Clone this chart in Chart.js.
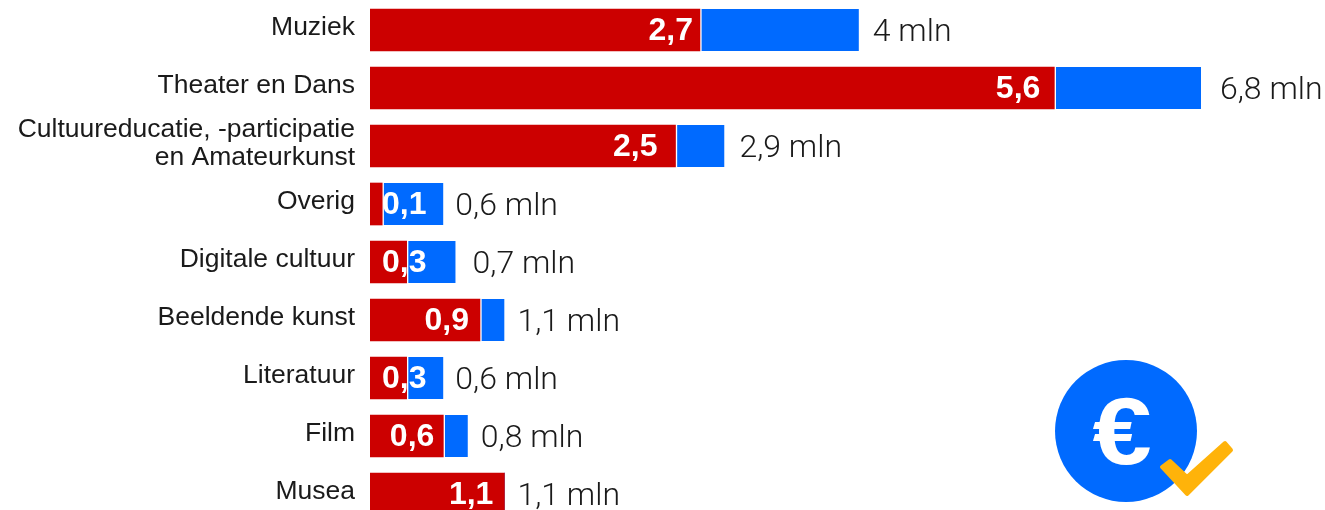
<!DOCTYPE html>
<html>
<head>
<meta charset="utf-8">
<style>
  html, body { margin: 0; padding: 0; background: #fff; height: 510px; overflow: hidden; }
  canvas { display: block; }
</style>
</head>
<body>
<canvas id="budget" width="1325" height="524"></canvas>
<script src="https://cdn.jsdelivr.net/npm/chart.js@4"></script>
<script>
const categories = [
    "Muziek",
    "Theater en Dans",
    ["Cultuureducatie, -participatie", "en Amateurkunst"],
    "Overig",
    "Digitale cultuur",
    "Beeldende kunst",
    "Literatuur",
    "Film",
    "Musea",
];
const redValues = [2.7, 5.6, 2.5, 0.1, 0.3, 0.9, 0.3, 0.6, 1.1];
const blueValues = [1.3, 1.2, 0.4, 0.5, 0.4, 0.2, 0.3, 0.2, 0];
const redLabels = ["2,7", "5,6", "2,5", "0,1", "0,3", "0,9", "0,3", "0,6", "1,1"];
const totalLabels = ["4 mln", "6,8 mln", "2,9 mln", "0,6 mln", "0,7 mln", "1,1 mln", "0,6 mln", "0,8 mln", "1,1 mln"];

const RED = "#CC0000";
const BLUE = "#006AFF";
const TEXT = "#1a1a1a";

// tick labels sit a little above the bar centre
const liftTicks = {
    id: "liftTicks",
    afterLayout(chart) {
        chart.scales.y.getLabelItems().forEach((item) => {
            item.textOffset -= 2;
        });
    },
};

const barLabels = {
    id: "barLabels",
    afterDatasetsDraw(chart) {
        const ctx = chart.ctx;
        const red = chart.getDatasetMeta(0).data;
        const blue = chart.getDatasetMeta(1).data;
        // gaps in the original are not regular, so per row
        const redGap = [7, 14, 18, 0, 0, 11, 0, 9, 11];
        const totalGap = [14, 19, 15, 12, 17, 13, 12, 13, 13];
        ctx.save();
        ctx.textBaseline = "middle";
        red.forEach((bar, i) => {
            // small values do not fit inside the red part, they run on into the blue
            ctx.font = "bold 32px 'Liberation Sans'";
            ctx.fillStyle = "#fff";
            const w = ctx.measureText(redLabels[i]).width;
            ctx.textAlign = "left";
            const inside = bar.x - bar.base > w + 5;
            ctx.fillText(redLabels[i], inside ? bar.x - redGap[i] - w : bar.base + 12, bar.y + 1);

            ctx.font = "300 32px Roboto";
            ctx.fillStyle = TEXT;
            ctx.fillText(totalLabels[i], blue[i].x + totalGap[i], bar.y + 3);
        });
        ctx.restore();
    },
};

const badge = {
    id: "badge",
    afterDraw(chart) {
        const ctx = chart.ctx;
        ctx.save();
        ctx.fillStyle = BLUE;
        ctx.beginPath();
        ctx.arc(1126, 431, 71, 0, Math.PI * 2);
        ctx.fill();

        ctx.save();
        ctx.translate(1122, 438);
        ctx.scale(1.12, 1);
        ctx.fillStyle = "#fff";
        ctx.font = "bold 95px 'Liberation Sans'";
        ctx.textAlign = "center";
        ctx.textBaseline = "middle";
        ctx.fillText("€", 0, 0);
        ctx.restore();

        ctx.fillStyle = ctx.strokeStyle = "#FFB30A";
        ctx.lineWidth = 4;
        ctx.lineJoin = "round";
        ctx.beginPath();
        ctx.moveTo(1170, 461);
        ctx.lineTo(1162, 467);
        ctx.lineTo(1187, 494);
        ctx.lineTo(1231, 450);
        ctx.lineTo(1225, 443);
        ctx.lineTo(1187, 477);
        ctx.closePath();
        ctx.fill();
        ctx.stroke();
        ctx.restore();
    },
};

new Chart(document.getElementById("budget"), {
    type: "bar",
    data: {
        labels: categories,
        datasets: [
            { data: redValues, backgroundColor: RED, borderWidth: 0 },
            {
                data: blueValues,
                backgroundColor: BLUE,
                borderColor: "#fff",
                borderWidth: { left: 2 },
                borderSkipped: false,
            },
        ],
    },
    plugins: [liftTicks, barLabels, badge],
    options: {
        indexAxis: "y",
        responsive: false,
        animation: false,
        barThickness: 42,
        layout: { padding: { top: 1, bottom: 1 } },
        scales: {
            x: { stacked: true, display: false, min: 0, max: 7.815 },
            y: {
                stacked: true,
                grid: { display: false, drawTicks: false },
                border: { display: false },
                afterFit(scale) {
                    scale.width = 370;
                    scale.paddingTop = 0;
                    scale.paddingBottom = 0;
                },
                ticks: {
                    color: TEXT,
                    padding: 15,
                    autoSkip: false,
                    font: { family: "'Liberation Sans'", size: 26.5, lineHeight: 1.06 },
                },
            },
        },
        plugins: {
            legend: { display: false },
            tooltip: { enabled: false },
        },
    },
});
</script>
</body>
</html>
